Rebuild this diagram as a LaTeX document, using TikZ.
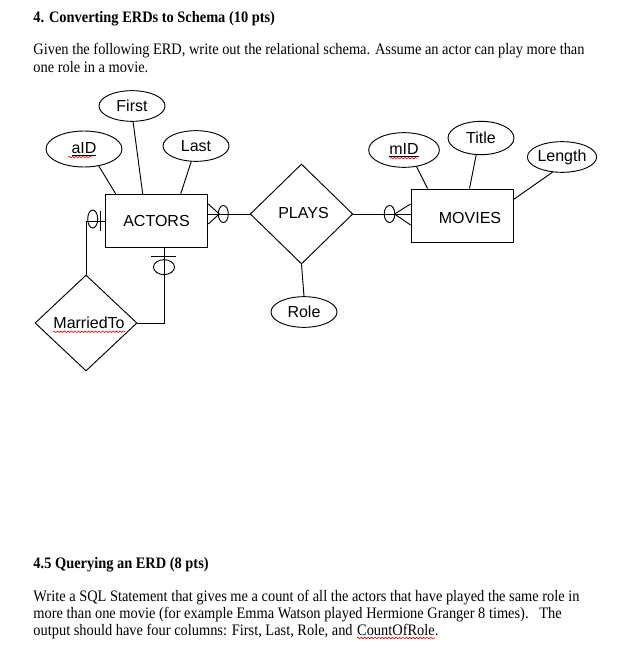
\documentclass[tikz,border=0pt]{standalone}
\usepackage{fontspec}
\setmainfont{Liberation Serif}[FakeStretch=0.9]
\newfontfamily\erdfont{Liberation Sans}
\usetikzlibrary{shapes.geometric,decorations.pathmorphing,calc,positioning}

\begin{document}
\begin{tikzpicture}[x=0.75pt,y=-0.75pt,line width=0.7pt,
  font=\erdfont\fontsize{12}{14}\selectfont,
  entity/.style={draw,rectangle,minimum width=77pt,minimum height=40pt,inner sep=0pt},
  attr/.style={draw,ellipse,minimum width=49.5pt,minimum height=23pt,inner sep=0pt},
  rel/.style={draw,diamond,minimum width=77pt,minimum height=75pt,inner sep=0pt},
  squig/.style={red,line width=0.45pt,decorate,decoration={snake,amplitude=0.6pt,segment length=2.6pt}},
  doc/.style={font=\rmfamily\fontsize{12}{14}\selectfont,anchor=base west,inner sep=0pt}]
\useasboundingbox (0,0) rectangle (630,663);
% question text
\node[doc] (head1) at (33,23) {\bfseries 4. Converting ERDs to Schema (10 pts)};
\node[doc] (given1) at (33,55) {Given the following ERD, write out the relational schema. Assume an actor can play more than};
\node[doc] (given2) at (33,73) {one role in a movie.};
% entities and relationships
\node[entity] (actors) at (156.5,221) {ACTORS};
\node[entity,minimum width=76.5pt,minimum height=39.75pt] (movies) at (462,215.5) {};
\node[anchor=center] (movieslbl) at ($(movies)+(8,2)$) {MOVIES};
\node[rel] (plays) at (301.5,214) {};
\node (playslbl) at ($(plays)+(2,-1)$) {PLAYS};
\node[rel,minimum width=76.5pt,minimum height=72pt] (married) at (86,323) {};
\node (marriedlbl) at ($(married)+(3,0)$) {MarriedTo};
% attributes
\node[attr] (first) at (132,106) {First};
\node[attr,minimum width=57pt,minimum height=27pt] (aid) at (84,149) {\underline{aID}\hspace{6pt}};
\node[attr] (last) at (196,146) {Last};
\node[attr,minimum width=53pt,minimum height=26pt] (mid) at (404,150) {\underline{mID}};
\node[attr,minimum height=25pt] (title) at (481,138) {Title};
\node[attr] (length) at (562,157) {Length};
\node[attr] (role) at (304,312) {Role};
\draw (aid.-49) -- ($(actors.north west)+(11,0)$);
\draw (first.-86) -- ($(actors.north west)+(38,0)$);
\draw (last.-107) -- ($(actors.north west)+(76,0)$);
\draw (mid.-53) -- ($(movies.north west)+(17,0)$);
\draw (title.-106) -- ($(movies.north west)+(59,0)$);
\draw (length.-122) -- ($(movies.north east)+(0,11)$);
\draw (plays.south) -- (role.north);
% ACTORS -- PLAYS, zero or many
\coordinate (ap) at (actors.east |- plays.west);
\draw (ap) -- (plays.west);
\draw ($(ap)+(0,-10)$) -- ($(ap)+(11,0)$) -- ($(ap)+(0,10)$);
\draw ($(ap)+(15,0)$) ellipse [x radius=3.75pt,y radius=6.4pt];
% PLAYS -- MOVIES, zero or many
\coordinate (mp) at (movies.west |- plays.east);
\draw (plays.east) -- (mp);
\draw ($(mp)+(0,-10)$) -- ($(mp)+(-16,0)$) -- ($(mp)+(0,11)$);
\draw ($(mp)+(-21,0)$) ellipse [x radius=4pt,y radius=6.4pt];
% ACTORS -- MarriedTo, zero or one on both sides
\draw (actors.west) -| (married.north);
\draw ($(actors.west)+(-4,-10)$) -- ($(actors.west)+(-4,10)$);
\draw ($(actors.west)+(-12,-2)$) ellipse [x radius=3.75pt,y radius=6.75pt];
\coordinate (ab) at ($(actors.south)+(7.5,0)$);
\draw (ab) |- (married.east);
\draw ($(ab)+(-13,8)$) -- ($(ab)+(12,8)$);
\draw ($(ab)+(0,19)$) ellipse [x radius=7.9pt,y radius=5.6pt];
% spell-check marks
\draw[squig] ($(aid.base)+(-16,4)$) -- ($(aid.base)+(8,4)$);
\draw[squig] ($(mid.base)+(-14,4)$) -- ($(mid.base)+(14,4)$);
\draw[squig] ($(marriedlbl.base)+(-36,3)$) -- ($(marriedlbl.base)+(36,3)$);
% second question
\node[doc] (head2) at (33,568) {\bfseries 4.5 Querying an ERD (8 pts)};
\node[doc] (write1) at (33,601) {Write a SQL Statement that gives me a count of all the actors that have played the same role in};
\node[doc] (write2) at (33,618) {more than one movie (for example Emma Watson played Hermione Granger 8 times).\ \ \ The};
\node[doc] (write3) at (33,635) {output should have four columns: First, Last, Role, and\ \null};
\node[doc] (count) at (write3.base east) {CountOfRole.};
\draw[squig] ($(count.base west)+(0,3)$) -- ($(count.base east)+(-4,3)$);
\end{tikzpicture}
\end{document}
